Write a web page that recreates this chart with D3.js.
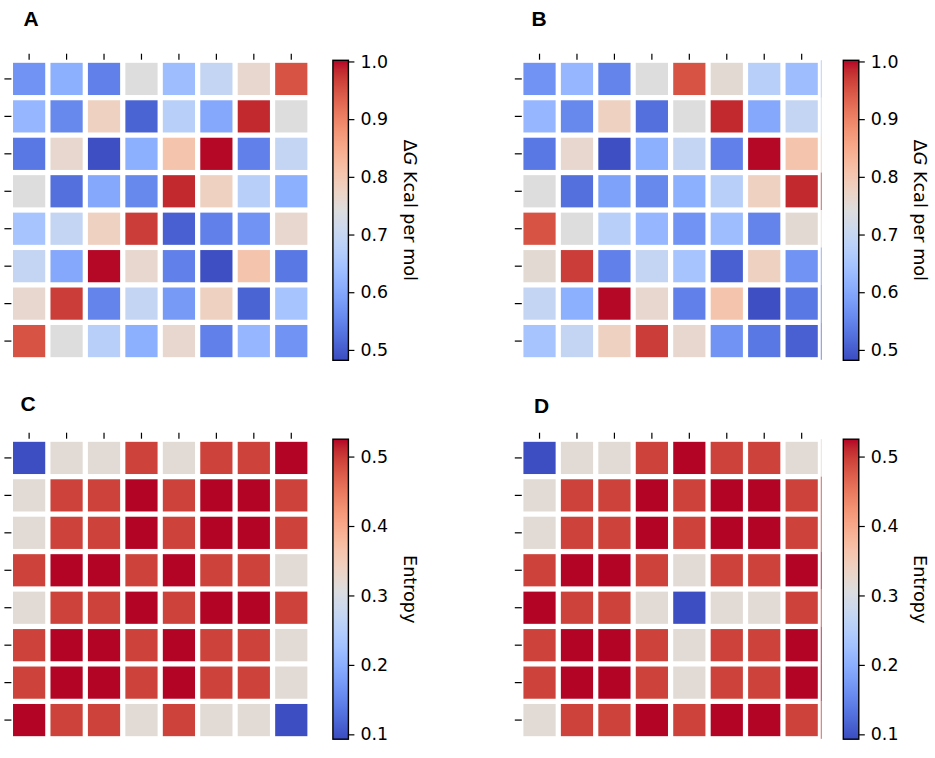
<!DOCTYPE html>
<html>
<head>
<meta charset="utf-8">
<script src="https://d3js.org/d3.v7.min.js"></script>
<style>
  html, body { margin: 0; padding: 0; background: #fff; }
  svg { display: block; }
  text { font-family: "DejaVu Sans", sans-serif; fill: #000; }
  .letter { font-family: "Liberation Sans", Arial, sans-serif; font-weight: bold; font-size: 21px; }
  .tick line, .cbar-frame { stroke: #000; }
  .tick line { stroke-width: 1.2; }
</style>
</head>
<body>
<script>
// matrix values
var dgA = [
  [0.570, 0.610, 0.545, 0.742, 0.635, 0.695, 0.762, 0.950],
  [0.625, 0.555, 0.780, 0.510, 0.675, 0.600, 0.985, 0.742],
  [0.535, 0.762, 0.485, 0.610, 0.807, 1.000, 0.545, 0.695],
  [0.742, 0.525, 0.600, 0.555, 0.985, 0.780, 0.675, 0.610],
  [0.650, 0.695, 0.780, 0.970, 0.505, 0.545, 0.570, 0.762],
  [0.695, 0.600, 1.000, 0.762, 0.545, 0.485, 0.807, 0.535],
  [0.762, 0.970, 0.550, 0.695, 0.580, 0.780, 0.510, 0.650],
  [0.950, 0.742, 0.675, 0.610, 0.762, 0.545, 0.625, 0.570]
];
var dgB = [
  [0.570, 0.625, 0.550, 0.742, 0.950, 0.755, 0.675, 0.635],
  [0.625, 0.555, 0.780, 0.525, 0.742, 0.985, 0.600, 0.695],
  [0.535, 0.762, 0.485, 0.610, 0.695, 0.545, 1.000, 0.807],
  [0.742, 0.525, 0.590, 0.555, 0.610, 0.675, 0.780, 0.985],
  [0.950, 0.742, 0.675, 0.625, 0.570, 0.635, 0.550, 0.755],
  [0.755, 0.970, 0.545, 0.695, 0.650, 0.505, 0.780, 0.570],
  [0.695, 0.610, 1.000, 0.762, 0.545, 0.807, 0.485, 0.535],
  [0.650, 0.695, 0.780, 0.970, 0.762, 0.570, 0.535, 0.505]
];
var entC = [
  [0.095, 0.318, 0.318, 0.495, 0.318, 0.495, 0.495, 0.525],
  [0.318, 0.495, 0.495, 0.525, 0.495, 0.525, 0.525, 0.495],
  [0.318, 0.495, 0.495, 0.525, 0.495, 0.525, 0.525, 0.495],
  [0.495, 0.525, 0.525, 0.495, 0.525, 0.495, 0.495, 0.318],
  [0.318, 0.495, 0.495, 0.525, 0.495, 0.525, 0.525, 0.495],
  [0.495, 0.525, 0.525, 0.495, 0.525, 0.495, 0.495, 0.318],
  [0.495, 0.525, 0.525, 0.495, 0.525, 0.495, 0.495, 0.318],
  [0.525, 0.495, 0.495, 0.318, 0.495, 0.318, 0.318, 0.095]
];
var entD = [
  [0.095, 0.318, 0.318, 0.495, 0.525, 0.495, 0.495, 0.318],
  [0.318, 0.495, 0.495, 0.525, 0.495, 0.525, 0.525, 0.495],
  [0.318, 0.495, 0.495, 0.525, 0.495, 0.525, 0.525, 0.495],
  [0.495, 0.525, 0.525, 0.495, 0.318, 0.495, 0.495, 0.525],
  [0.525, 0.495, 0.495, 0.318, 0.095, 0.318, 0.318, 0.495],
  [0.495, 0.525, 0.525, 0.495, 0.318, 0.495, 0.495, 0.525],
  [0.495, 0.525, 0.525, 0.495, 0.318, 0.495, 0.495, 0.525],
  [0.318, 0.495, 0.495, 0.525, 0.495, 0.525, 0.525, 0.495]
];
var dgTicks = [0.5, 0.6, 0.7, 0.8, 0.9, 1.0];
var entTicks = [0.1, 0.2, 0.3, 0.4, 0.5];
var dgRange = [0.482, 1.002];
var entRange = [0.093, 0.525];
var indices = d3.range(8);

// matplotlib coolwarm
var coolwarm = d3.piecewise(d3.interpolateRgb, [
  "#3b4cc0", "#445acc", "#4d68d7", "#5775e1", "#6282ea", "#6c8ef1", "#779af7", "#82a5fb",
  "#8db0fe", "#98b9ff", "#a3c2ff", "#aec9fd", "#b8d0f9", "#c2d5f4", "#ccd9ee", "#d5dbe6",
  "#dddddd", "#e5d8d1", "#ecd3c5", "#f1ccb9", "#f5c4ad", "#f7bba0", "#f7b194", "#f7a687",
  "#f49a7b", "#f18d6f", "#ec7f63", "#e57058", "#de604d", "#d55042", "#cb3e38", "#c0282f",
  "#b40426"
]);

var width = 935, height = 758;

var svg = d3.select("body").append("svg")
  .attr("width", width)
  .attr("height", height);
var defs = svg.append("defs");

defs.append("linearGradient")
  .attr("id", "cw")
  .attr("x1", 0).attr("y1", 1).attr("x2", 0).attr("y2", 0)
  .selectAll("stop")
  .data(d3.range(0, 1.0001, 1 / 32))
  .enter().append("stop")
  .attr("offset", function(d) { return d; })
  .attr("stop-color", function(d) { return coolwarm(d); });

function drawPanel(p) {
  var g = svg.append("g").attr("class", "panel");
  var color = d3.scaleSequential(coolwarm).domain(p.range);

  var x = d3.scaleBand().domain(indices).range([p.left, p.left + 299.6]).paddingInner(0.14).paddingOuter(0.07);
  var y = d3.scaleBand().domain(indices).range([p.top, p.top + 299.6]).paddingInner(0.14).paddingOuter(0.07);

  g.append("text")
    .attr("class", "letter")
    .attr("x", p.letterX).attr("y", p.letterY)
    .text(p.letter);

  p.values.forEach(function(row, r) {
    g.selectAll(".r" + r)
      .data(row)
      .enter().append("rect")
      .attr("class", "r" + r)
      .attr("x", function(d, c) { return x(c); })
      .attr("y", y(r))
      .attr("width", x.bandwidth())
      .attr("height", y.bandwidth())
      .attr("fill", function(d) { return color(d); });
  });

  // the thin sliver of the last column left at the right edge of B and D
  if (p.sliver) {
    g.selectAll(".sliver")
      .data(p.values)
      .enter().append("rect")
      .attr("class", "sliver")
      .attr("x", x.range()[1] + 0.4)
      .attr("y", function(d, r) { return y(r) - y.step() * 0.07; })
      .attr("width", 0.9)
      .attr("height", y.step())
      .attr("fill", function(d) { return color(d[7]); })
      .attr("opacity", p.sliver);
  }

  var top = d3.axisTop(x).tickSize(6).tickPadding(2).tickFormat("");
  var left = d3.axisLeft(y).tickSize(7).tickPadding(2).tickFormat("");
  g.append("g").attr("transform", "translate(0," + (p.top - 0.5) + ")").call(top).call(function(s) { s.select(".domain").remove(); });
  g.append("g").attr("transform", "translate(" + (p.left + 1) + ",0)").call(left).call(function(s) { s.select(".domain").remove(); });

  // colorbar
  var cx = p.left + 322.5, cw = 15.5, cTop = p.cbarTop, cH = 300;
  var cs = d3.scaleLinear().domain(p.range).range([cTop + cH, cTop]);
  g.append("rect")
    .attr("class", "cbar-frame")
    .attr("x", cx).attr("y", cTop)
    .attr("width", cw).attr("height", cH)
    .attr("fill", "url(#cw)")
    .attr("stroke-width", 1.4);
  var ax = d3.axisRight(cs).tickValues(p.ticks).tickSize(6).tickPadding(6).tickFormat(d3.format(".1f"));
  g.append("g")
    .attr("transform", "translate(" + (cx + cw) + ",0)")
    .call(ax)
    .call(function(s) {
      s.select(".domain").remove();
      s.selectAll("text").style("font-size", "17.4px").style("font-family", "'DejaVu Sans', sans-serif").attr("fill", "#000");
    });

  var label = g.append("text")
    .attr("transform", "translate(" + (cx + 71) + "," + (cTop + cH / 2) + ") rotate(90)")
    .attr("text-anchor", "middle")
    .style("font-size", "17.6px");
  if (p.delta) {
    label.append("tspan").text("\u0394");
    label.append("tspan").attr("font-style", "italic").text("G");
    label.append("tspan").text(" Kcal per mol");
  } else {
    label.text("Entropy");
  }
}

drawPanel({ letter: "A", letterX: 23.5, letterY: 26, values: dgA, range: dgRange, ticks: dgTicks, left: 10.4, top: 60.2, cbarTop: 60.3, delta: true });
drawPanel({ letter: "B", letterX: 531.5, letterY: 26, values: dgB, range: dgRange, ticks: dgTicks, left: 520.8, top: 60.2, cbarTop: 60.3, delta: true, sliver: 0.8 });
drawPanel({ letter: "C", letterX: 20.5, letterY: 411, values: entC, range: entRange, ticks: entTicks, left: 10.4, top: 439.2, cbarTop: 439.2, delta: false });
drawPanel({ letter: "D", letterX: 534, letterY: 412.5, values: entD, range: entRange, ticks: entTicks, left: 520.8, top: 439.2, cbarTop: 439.2, delta: false, sliver: 0.9 });
</script>
</body>
</html>
